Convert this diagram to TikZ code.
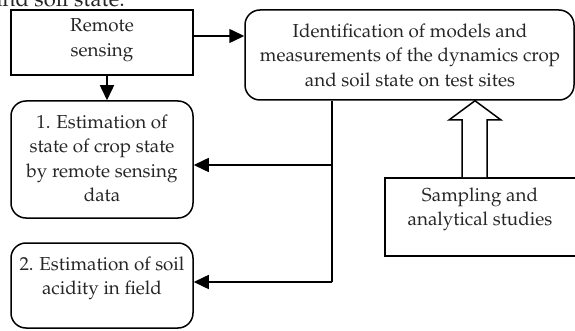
\documentclass[tikz,border=0pt]{standalone}
\usepackage[T1]{fontenc}
\usepackage{mathpazo}
\usetikzlibrary{arrows.meta,calc}
\tikzset{
  sqbox/.style={draw, line width=1.5pt, rectangle, inner sep=0pt},
  rbox/.style={draw, line width=1.5pt, rectangle, rounded corners=15pt, inner sep=0pt},
  txt/.style={anchor=north, inner sep=0pt, align=center, font={\fontsize{18.8}{24.5}\selectfont}, text=black!85},
  conn/.style={line width=1.5pt},
  arr/.style={line width=1.5pt, -{Triangle[length=15pt,width=14pt]}},
  blockarrow/.style={line width=1.5pt, fill=white, line join=miter},
}
\begin{document}
\begin{tikzpicture}[x=1pt,y=-1pt]
\useasboundingbox (0,0) rectangle (575,331);
\clip (0,0) rectangle (575,331);
% clipped caption line
\node[anchor=base east, inner sep=0pt, font={\fontsize{22}{26}\selectfont}, text=black!85] (cap) at (125,6.5) {and soil state.};
% boxes
\node[sqbox, minimum width=182pt, minimum height=65pt] (rs) at (102,42.5) {};
\node[rbox, minimum width=329pt, minimum height=90pt] (id) at (409.5,55) {};
\node[rbox, minimum width=182pt, minimum height=117pt] (e1) at (102,159.5) {};
\node[rbox, minimum width=182pt, minimum height=85pt] (e2) at (102,285.5) {};
\node[sqbox, minimum width=192pt, minimum height=78pt] (sam) at (481,217) {};
% texts
\node[txt] (rst) at (102,14.3) {\strut Remote\\sensing};
\node[txt] (idt) at (410,19.85) {\strut Identification of models and\\measurements of the dynamics crop\\and soil state on test sites};
\node[txt] (e1t) at (102,110.85) {\strut 1. Estimation of\\state of crop state\\by remote sensing\\data};
\node[txt] (e2t) at (102,252.85) {\strut 2. Estimation of soil\\acidity in field};
\node[txt] (samt) at (480,183.85) {\strut Sampling and\\analytical studies};
% connectors
\draw[arr] (rs.east |- 0,36) -- (id.west |- 0,36);
\draw[arr] (rs.south -| 107,0) -- (e1.north -| 107,0);
\coordinate (j1) at (332,165);
\coordinate (j2) at (332,282);
\draw[conn] (id.south -| j1) -- (j2);
\draw[arr] (j1) -- (e1.east |- j1);
\draw[arr] (j2) -- (e2.east |- j2);
% hollow block arrow from sampling to identification
\draw[blockarrow] (sam.north -| 462,0) -- (462,120) -- (449,120) -- (id.south -| 475,0) -- (501,120) -- (487,120) -- (sam.north -| 487,0);
\end{tikzpicture}
\end{document}
